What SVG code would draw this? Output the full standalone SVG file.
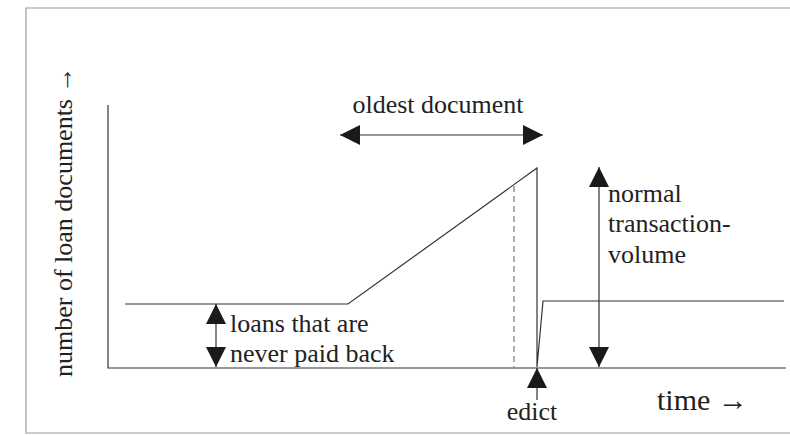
<svg xmlns="http://www.w3.org/2000/svg" width="790" height="435" viewBox="0 0 790 435">
  <defs>
    <marker id="ah" markerUnits="userSpaceOnUse" markerWidth="20" markerHeight="20" refX="20" refY="10" orient="auto-start-reverse">
      <path d="M0,0 L20,10 L0,20 Z" fill="#1a1a1a"/>
    </marker>
  </defs>
  <style>
    .frame { fill: none; stroke: #999; stroke-width: 1.2; }
    .ln { fill: none; stroke: #333; stroke-width: 1.2; }
    .arr { fill: none; stroke: #333; stroke-width: 1.2; marker-end: url(#ah); }
    .arr2 { fill: none; stroke: #333; stroke-width: 1.2; marker-start: url(#ah); marker-end: url(#ah); }
    .dash { fill: none; stroke: #777; stroke-width: 1.2; stroke-dasharray: 6 4; }
    .t { font-family: "Liberation Serif", "Times New Roman", serif; font-size: 26px; fill: #222; }
    .big { font-size: 30px; }
  </style>
  <rect width="790" height="435" fill="#fff"/>
  <path class="frame" d="M792,8 H26 V433 H792"/>

  <g id="axes">
    <path class="ln" d="M108,105 V368 H786"/>
    <text class="t" transform="translate(72,377) rotate(-90)">number of loan documents →</text>
    <text class="t big" x="657" y="410">time →</text>
  </g>

  <g id="curve">
    <path class="ln" d="M125,304 H348 L537,168 V367 L543,301 H784"/>
    <path class="dash" d="M514,186 V367"/>
  </g>

  <g id="connectors">
    <line class="arr2" x1="340" y1="135" x2="543" y2="135"/>
    <line class="arr2" x1="216" y1="304" x2="216" y2="367"/>
    <line class="arr2" x1="599" y1="167" x2="599" y2="367"/>
    <line class="arr" x1="537" y1="400" x2="537" y2="368"/>
  </g>

  <g id="label-oldest">
    <text class="t" x="438" y="113" text-anchor="middle">oldest document</text>
  </g>
  <g id="label-loans">
    <text class="t" x="230" y="332">loans that are</text>
    <text class="t" x="230" y="362">never paid back</text>
  </g>
  <g id="label-normal">
    <text class="t" x="608" y="202">normal</text>
    <text class="t" x="608" y="232">transaction-</text>
    <text class="t" x="608" y="263">volume</text>
  </g>
  <g id="label-edict">
    <text class="t" x="532" y="420" text-anchor="middle">edict</text>
  </g>
</svg>
